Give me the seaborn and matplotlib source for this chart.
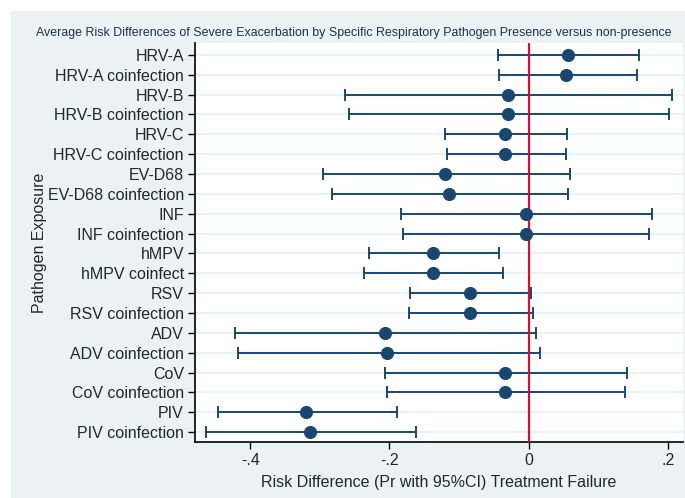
import numpy as np
import pandas as pd
import matplotlib
matplotlib.use("Agg")
import matplotlib.pyplot as plt
from matplotlib.patches import Rectangle
import seaborn as sns

#%% Dati
pathogens = ["HRV-A", "HRV-A coinfection", "HRV-B", "HRV-B coinfection",
             "HRV-C", "HRV-C coinfection", "EV-D68", "EV-D68 coinfection",
             "INF", "INF coinfection", "hMPV", "hMPV coinfect",
             "RSV", "RSV coinfection", "ADV", "ADV coinfection",
             "CoV", "CoV coinfection", "PIV", "PIV coinfection"]
risk_diff = [0.056, 0.054, -0.029, -0.029, -0.034, -0.034, -0.120, -0.115,
             -0.004, -0.004, -0.137, -0.137, -0.085, -0.085, -0.206, -0.204,
             -0.034, -0.034, -0.320, -0.314]
ci_low = [-0.044, -0.043, -0.264, -0.258, -0.120, -0.117, -0.295, -0.283,
          -0.184, -0.180, -0.230, -0.237, -0.171, -0.172, -0.422, -0.417,
          -0.207, -0.203, -0.446, -0.464]
ci_high = [0.159, 0.156, 0.206, 0.202, 0.055, 0.053, 0.059, 0.056,
           0.177, 0.173, -0.042, -0.037, 0.003, 0.006, 0.011, 0.016,
           0.142, 0.139, -0.189, -0.162]
xticks = [-0.4, -0.2, 0, 0.2]
xtick_labels = ["-.4", "-.2", "0", ".2"]

df = pd.DataFrame({"pathogen": pathogens, "rd": risk_diff,
                   "lo": ci_low, "hi": ci_high})

#%% Stile
bg = "#EAF2F3"
navy = "#1a476f"
fs = 11.5
sns.set_style("white")
plt.rcParams["font.family"] = ["Liberation Sans", "DejaVu Sans"]

fig = plt.figure(figsize=(6.85, 4.98), dpi=100, facecolor="white")
fig.patches.append(Rectangle((11 / 685, 0), 1, 1 - 11 / 498,
                             transform=fig.transFigure, facecolor=bg,
                             edgecolor="none", zorder=-10))
ax = fig.add_axes([195 / 685, 1 - 442 / 498, 488 / 685, 399 / 498])
ax.set_facecolor("white")

ypos = np.arange(len(df))
for y in ypos:
    ax.axhline(y, color=bg, lw=1.6, zorder=0)

ax.errorbar(df["rd"], ypos, xerr=[df["rd"] - df["lo"], df["hi"] - df["rd"]],
            fmt="none", ecolor=navy, elinewidth=1.4, capsize=4,
            capthick=1.4, zorder=2)
ax.axvline(0, color="#cc1236", lw=1.6, zorder=3)
sns.scatterplot(x=df["rd"], y=ypos, ax=ax, color=navy, s=90,
                edgecolor=navy, linewidth=0, zorder=4)

ax.set_yticks(ypos)
ax.set_yticklabels(df["pathogen"], fontsize=fs)
ax.set_ylim(len(df) - 0.5, -0.6)
ax.set_xlim(-0.4795, 0.2218)
ax.set_xticks(xticks)
ax.set_xticklabels(xtick_labels, fontsize=fs)
ax.tick_params(axis="both", direction="out", length=5, width=1,
               color="black", left=True, bottom=True, pad=3)
for s in ["top", "right"]:
    ax.spines[s].set_visible(False)
for s in ["left", "bottom"]:
    ax.spines[s].set_color("black")
    ax.spines[s].set_linewidth(1.2)

ax.set_xlabel("Risk Difference (Pr with 95%CI) Treatment Failure",
              fontsize=fs, labelpad=5)
ax.set_ylabel("Pathogen Exposure", fontsize=fs)
ax.yaxis.set_label_coords(-0.304, 0.5)
fig.text(354 / 685, 1 - 33 / 498,
         "Average Risk Differences of Severe Exacerbation by Specific "
         "Respiratory Pathogen Presence versus non-presence",
         ha="center", va="center", fontsize=8.9, color="#1f2f4f")

fig.savefig("out.png", dpi=100, facecolor=fig.get_facecolor())
